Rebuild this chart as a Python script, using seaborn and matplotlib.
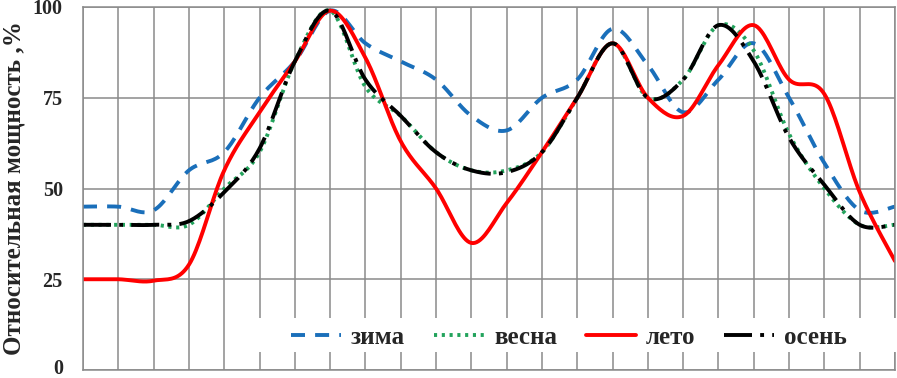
import numpy as np
import pandas as pd
import matplotlib
matplotlib.use("Agg")
import matplotlib.pyplot as plt
import matplotlib.transforms as mtransforms
from matplotlib.patches import Rectangle
import seaborn as sns

# hourly relative power, % (24 points per season)
hours = list(range(24))
zima = [45, 45, 44, 55, 60, 75, 85, 99, 90, 85, 80, 70, 66, 75, 80, 94, 84, 71, 80, 90, 75, 57, 44, 45]
vesna = [40, 40, 40, 40, 50, 60, 85, 99, 78, 70, 60, 55, 55, 60, 75, 90, 75, 80, 95, 88, 65, 50, 40, 40]
leto = [25, 25, 24.6, 29, 55, 71, 85, 99, 86, 63, 50, 35, 46, 60, 75, 90, 75, 70, 84, 95, 80, 76, 49, 30]
osen = [40, 40, 40, 41, 49, 61, 85, 99, 80, 70, 60, 55, 54.5, 60, 75, 90, 75, 80, 95, 85, 64, 51, 40, 40]
season_names = ["зима", "весна", "лето", "осень"]
y_ticks = [0, 25, 50, 75, 100]


def smooth(x, y, n=20):
    """Excel-like smoothed line: Bezier segments with Catmull-Rom control points."""
    x = np.asarray(x, float)
    y = np.asarray(y, float)
    px = np.concatenate([[x[0]], x, [x[-1]]])
    py = np.concatenate([[y[0]], y, [y[-1]]])
    t = np.linspace(0, 1, n, endpoint=False)
    xs, ys = [], []
    for i in range(1, len(px) - 2):
        p0 = np.array([px[i], py[i]])
        p3 = np.array([px[i + 1], py[i + 1]])
        c1 = p0 + (p3 - np.array([px[i - 1], py[i - 1]])) / 6
        c2 = p3 - (np.array([px[i + 2], py[i + 2]]) - p0) / 6
        b = ((1 - t) ** 3)[:, None] * p0 + (3 * (1 - t) ** 2 * t)[:, None] * c1 \
            + (3 * (1 - t) * t ** 2)[:, None] * c2 + (t ** 3)[:, None] * p3
        xs.append(b[:, 0])
        ys.append(b[:, 1])
    xs.append([x[-1]])
    ys.append([y[-1]])
    return np.concatenate(xs), np.concatenate(ys)


sns.set_theme(style="white")
plt.rcParams['font.family'] = ['Liberation Serif', 'DejaVu Serif']
plt.rcParams['font.weight'] = 'bold'

fig = plt.figure(figsize=(8.97, 3.78), dpi=100)
ax = fig.add_axes([83 / 897, 8 / 378, 812 / 897, 363 / 378])

styles = {
    "зима": dict(color="#1a6fba", ls=(0, (3.6, 2.6))),
    "весна": dict(color="#22a35c", ls=(0, (0.8, 1.2))),
    "лето": dict(color="#ff0000", ls="-"),
    "осень": dict(color="#000000", ls=(0, (7.2, 2.1, 1, 2.1))),
}

for name, vals in zip(season_names, [zima, vesna, leto, osen]):
    sx, sy = smooth(hours, vals)
    df = pd.DataFrame({"hour": sx, "power": sy})
    sns.lineplot(data=df, x="hour", y="power", ax=ax, sort=False, estimator=None,
                 color=styles[name]["color"], linestyle=styles[name]["ls"],
                 linewidth=2.8, label=name)

ax.set_xlim(0, 23)
ax.set_ylim(0, 100)
ax.set_xticks(hours)
ax.set_xticklabels([])
ax.set_yticks(y_ticks)
ax.set_yticklabels([str(v) for v in y_ticks], fontsize=14.5, fontweight='bold')
ax.tick_params(axis='both', length=0)
ax.tick_params(axis='y', pad=14.5)
ax.grid(True, color="#8a8a8a", linewidth=1.1)
ax.set_axisbelow(True)
for side, sp in ax.spines.items():
    sp.set_color("#8a8a8a")
    sp.set_linewidth(1.1)
ax.set_xlabel("")
ax.set_ylabel("")

# nudge the "0" label up a little so it stays inside the picture
zero_lbl = ax.get_yticklabels()[0]
zero_lbl.set_transform(zero_lbl.get_transform() +
                       mtransforms.ScaledTranslation(0, 3 / 100, fig.dpi_scale_trans))

fig.text(14 / 897, 190 / 378, "Относительная мощность ,%", rotation=90,
         ha='center', va='center', fontsize=18, fontweight='bold')

# white legend area over the grid, as in the original
ax.add_patch(Rectangle((162 / 812, 18 / 363), 652 / 812, 34 / 363, transform=ax.transAxes,
                       facecolor='white', edgecolor='none', clip_on=False, zorder=4))
leg = ax.legend(loc='center', bbox_to_anchor=(486 / 812, 33 / 363), ncol=4,
                frameon=False, borderaxespad=0, borderpad=0.2,
                handlelength=2.0, handletextpad=0.4, columnspacing=1.15,
                prop={'size': 18, 'weight': 'bold'})
leg.set_zorder(5)

fig.savefig("out.png", dpi=100)
